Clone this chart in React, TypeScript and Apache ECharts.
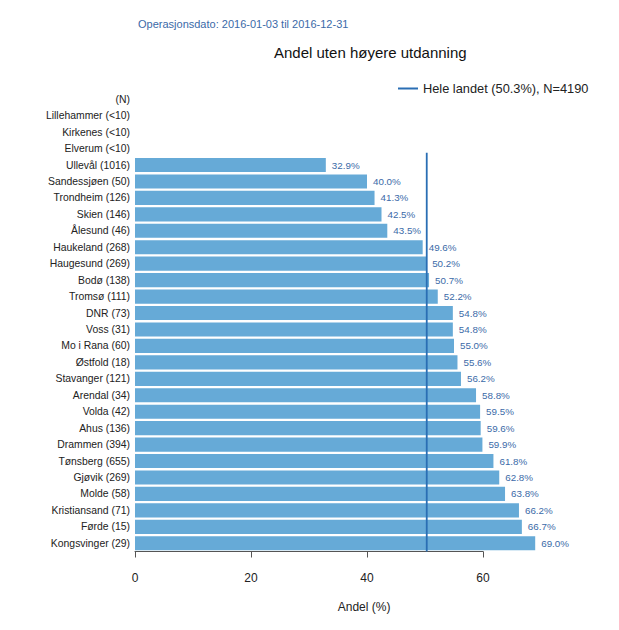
import React, { useEffect, useRef } from "react";
import * as echarts from "echarts";

const categories = [
  "(N)",
  "Lillehammer (<10)",
  "Kirkenes (<10)",
  "Elverum (<10)",
  "Ullevål (1016)",
  "Sandessjøen (50)",
  "Trondheim (126)",
  "Skien (146)",
  "Ålesund (46)",
  "Haukeland (268)",
  "Haugesund (269)",
  "Bodø (138)",
  "Tromsø (111)",
  "DNR (73)",
  "Voss (31)",
  "Mo i Rana (60)",
  "Østfold (18)",
  "Stavanger (121)",
  "Arendal (34)",
  "Volda (42)",
  "Ahus (136)",
  "Drammen (394)",
  "Tønsberg (655)",
  "Gjøvik (269)",
  "Molde (58)",
  "Kristiansand (71)",
  "Førde (15)",
  "Kongsvinger (29)",
];

const values: (number | null)[] = [
  null, null, null, null,
  32.9, 40.0, 41.3, 42.5, 43.5, 49.6, 50.2, 50.7, 52.2, 54.8, 54.8, 55.0,
  55.6, 56.2, 58.8, 59.5, 59.6, 59.9, 61.8, 62.8, 63.8, 66.2, 66.7, 69.0,
];

const nationalValue = 50.3;
const nationalName = "Hele landet (50.3%), N=4190";
// vertical extent of the reference line in row units (0 = bottom of plot)
const nationalLineRows = [0, 24.25];
const xTicksMax = 60;
const xTickInterval = 20;
const xPlotMax = 79;

const titleText = "Andel uten høyere utdanning";
const subtitleText = "Operasjonsdato: 2016-01-03 til 2016-12-31";
const xAxisTitle = "Andel (%)";

const FONT = "Liberation Sans, Arial, Helvetica, sans-serif";

export default function App() {
  const ref = useRef<HTMLDivElement>(null);
  useEffect(() => {
    if (!ref.current) return;
    const chart = echarts.init(ref.current, null, { renderer: "svg" });
    const gridTop = 91;
    const gridHeight = 460.5;
    const gridLeft = 135;
    const unit = 5.8;
    chart.setOption({
      animation: false,
      backgroundColor: "#ffffff",
      textStyle: { fontFamily: FONT },
      title: [
        {
          text: subtitleText,
          left: 133,
          top: 13,
          textStyle: { fontSize: 11, fontWeight: "normal", color: "#3b6aa8", fontFamily: FONT },
        },
        {
          text: titleText,
          left: 269,
          top: 40,
          textStyle: { fontSize: 15, fontWeight: "normal", color: "#111", fontFamily: FONT },
        },
      ],
      legend: {
        left: 393,
        top: 77,
        itemWidth: 20,
        itemHeight: 12,
        itemGap: 6,
        textStyle: { fontSize: 12.8, color: "#222", fontFamily: FONT },
        data: [{ name: nationalName, icon: "path://M0,5 L20,5 L20,7 L0,7 Z" }],
      },
      grid: [
        { left: gridLeft, top: gridTop, width: unit * xPlotMax, height: gridHeight },
        { left: gridLeft, top: gridTop, width: unit * xTicksMax, height: gridHeight },
      ],
      xAxis: [
        {
          gridIndex: 0,
          type: "value",
          min: 0,
          max: xPlotMax,
          axisLine: { show: false },
          axisTick: { show: false },
          axisLabel: { show: false },
          splitLine: { show: false },
          name: xAxisTitle,
          nameLocation: "middle",
          nameGap: 49,
          nameTextStyle: { fontSize: 12, color: "#222", fontFamily: FONT },
        },
        {
          gridIndex: 1,
          type: "value",
          min: 0,
          max: xTicksMax,
          interval: xTickInterval,
          axisLine: { show: true, lineStyle: { color: "#555", width: 1 } },
          axisTick: { show: true, length: 6, lineStyle: { color: "#555" } },
          axisLabel: { fontSize: 12, color: "#222", margin: 20, fontFamily: FONT },
          splitLine: { show: false },
        },
      ],
      yAxis: [
        {
          gridIndex: 0,
          type: "category",
          data: categories,
          inverse: true,
          axisLine: { show: false },
          axisTick: { show: false },
          axisLabel: { fontSize: 10.4, color: "#222", margin: 5, fontFamily: FONT },
          splitLine: { show: false },
        },
        {
          gridIndex: 0,
          type: "value",
          min: 0,
          max: categories.length,
          show: false,
        },
        {
          gridIndex: 1,
          type: "value",
          show: false,
        },
      ],
      series: [
        {
          type: "bar",
          xAxisIndex: 0,
          yAxisIndex: 0,
          data: values,
          barCategoryGap: "14%",
          itemStyle: { color: "#66aad7" },
          label: {
            show: true,
            position: "right",
            distance: 6,
            fontSize: 9.8,
            color: "#3b6aa8",
            fontFamily: FONT,
            formatter: (p: any) => (p.value == null ? "" : Number(p.value).toFixed(1) + "%"),
          },
        },
        {
          type: "line",
          name: nationalName,
          xAxisIndex: 0,
          yAxisIndex: 1,
          symbol: "none",
          data: nationalLineRows.map((r) => [nationalValue, r]),
          lineStyle: { color: "#2a6eb4", width: 1.8 },
          itemStyle: { color: "#2a6eb4" },
          z: 5,
        },
      ],
    });
    return () => chart.dispose();
  }, []);
  return <div ref={ref} style={{ width: 619, height: 630, position: "absolute", left: 0, top: 0 }} />;
}
